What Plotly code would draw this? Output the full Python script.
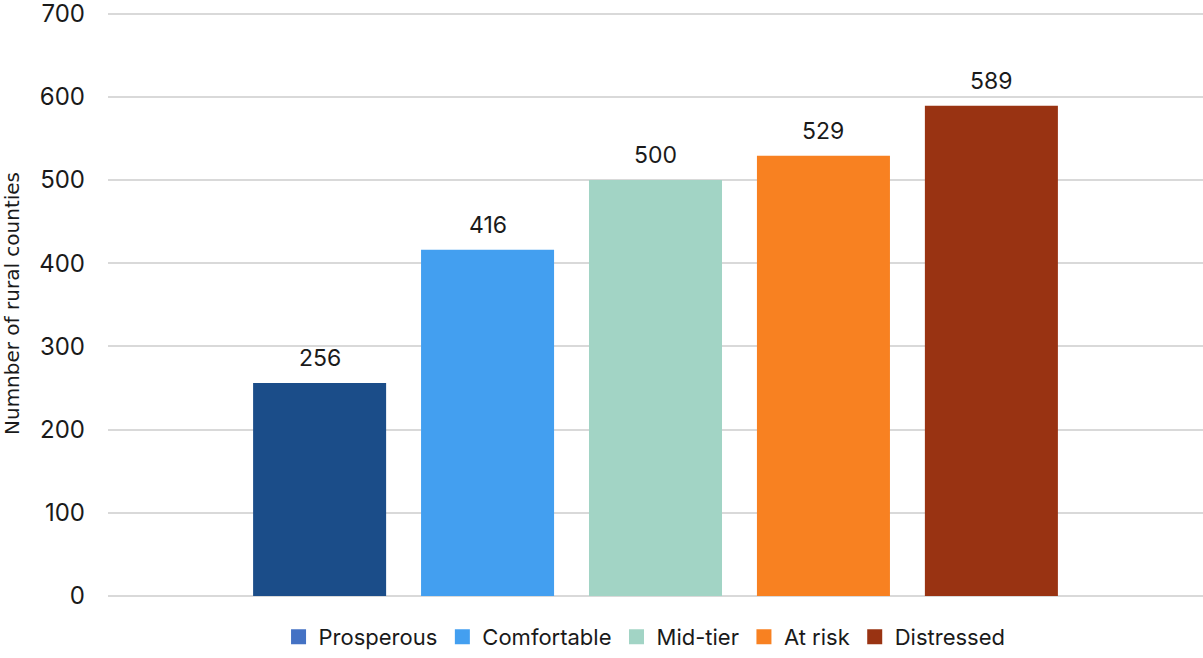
import plotly.graph_objects as go

tiers = ["Prosperous", "Comfortable", "Mid-tier", "At risk", "Distressed"]
counties = [256, 416, 500, 529, 589]
bar_colors = ["#1B4D89", "#439FF0", "#A2D4C5", "#F88121", "#993312"]
legend_colors = ["#4472C4", "#439FF0", "#A2D4C5", "#F88121", "#993312"]
y_ticks = [0, 100, 200, 300, 400, 500, 600, 700]

FONT = "Inter, Lato, sans-serif"
TITLE_FONT = "DejaVu Sans, sans-serif"
fig = go.Figure()

# one bar per tier, coloured individually
fig.add_trace(go.Bar(
    x=tiers, y=counties, showlegend=False,
    marker=dict(color=bar_colors, line=dict(width=0)),
    hoverinfo="x+y",
))

# value labels sitting a little above each bar
for name, val in zip(tiers, counties):
    fig.add_annotation(
        x=name, y=val, text=str(val), showarrow=False,
        yanchor="bottom", yshift=9,
        font=dict(size=23, color="#1a1a1a", family=FONT),
    )

# legend swatches on a hidden axis pair
for name, col in zip(tiers, legend_colors):
    fig.add_trace(go.Scatter(
        x=[None], y=[None], name=name, mode="markers",
        marker=dict(color=col, symbol="square", size=15),
        xaxis="x2", yaxis="y2", showlegend=True,
    ))

fig.update_layout(
    width=1203, height=658,
    margin=dict(l=108, r=0, t=11, b=62),
    paper_bgcolor="white", plot_bgcolor="white",
    bargap=0.208,
    font=dict(family=FONT, size=20, color="#1a1a1a"),
    xaxis=dict(range=[-1.26, 5.26], showticklabels=False, showgrid=False,
               zeroline=False, showline=False, ticks=""),
    yaxis=dict(range=[0, 703], tickvals=y_ticks, showgrid=True,
               gridcolor="#D9D9D9", gridwidth=2, zeroline=True,
               zerolinecolor="#D9D9D9", zerolinewidth=2, showline=False,
               ticks="", ticklabelstandoff=22, ticklabeloverflow="allow",
               tickfont=dict(size=24, family=FONT),
               title=dict(text="Numnber of rural counties",
                          font=dict(size=20, family=TITLE_FONT), standoff=16)),
    xaxis2=dict(visible=False, overlaying="x"),
    yaxis2=dict(visible=False, overlaying="y"),
    legend=dict(orientation="h", x=0.49, xanchor="center",
                yref="container", y=-0.007, yanchor="bottom",
                font=dict(size=22, family=FONT),
                itemwidth=30, tracegroupgap=0),
    showlegend=True,
)

fig.write_html("out.html")
